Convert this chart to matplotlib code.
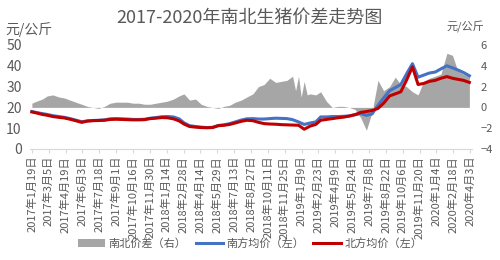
import matplotlib
matplotlib.use("Agg")
import matplotlib.pyplot as plt
import pandas as pd

plt.rcParams['font.family'] = ['Noto Sans CJK SC', 'DejaVu Sans']

# semi-monthly sample dates for the two price lines
dates = [
    "2017-01-19", "2017-02-01", "2017-02-16", "2017-03-01", "2017-03-16", "2017-04-01",
    "2017-04-16", "2017-05-01", "2017-05-16", "2017-06-01", "2017-06-16", "2017-07-01",
    "2017-07-16", "2017-08-01", "2017-08-16", "2017-09-01", "2017-09-16", "2017-10-01",
    "2017-10-16", "2017-11-01", "2017-11-16", "2017-12-01", "2017-12-16", "2018-01-01",
    "2018-01-16", "2018-02-01", "2018-02-16", "2018-03-01", "2018-03-16", "2018-04-01",
    "2018-04-16", "2018-05-01", "2018-05-16", "2018-06-01", "2018-06-16", "2018-07-01",
    "2018-07-16", "2018-08-01", "2018-08-16", "2018-09-01", "2018-09-16", "2018-10-01",
    "2018-10-16", "2018-11-01", "2018-11-16", "2018-12-01", "2018-12-16", "2019-01-01",
    "2019-01-16", "2019-02-01", "2019-02-16", "2019-03-01", "2019-03-16", "2019-04-01",
    "2019-04-16", "2019-05-01", "2019-05-16", "2019-06-01", "2019-06-16", "2019-07-01",
    "2019-07-16", "2019-08-01", "2019-08-16", "2019-09-01", "2019-09-16", "2019-10-01",
    "2019-10-16", "2019-11-01", "2019-11-16", "2019-12-01", "2019-12-16", "2020-01-01",
    "2020-01-16", "2020-02-01", "2020-02-16", "2020-03-01", "2020-03-16", "2020-04-01",
]

south_price = [
    18.0, 17.5, 17.0, 16.6, 16.0, 15.6, 15.2, 14.6, 13.9, 13.1, 13.5, 13.7,
    13.8, 14.0, 14.5, 14.6, 14.5, 14.4, 14.2, 14.2, 14.3, 14.8, 15.1, 15.5,
    15.6, 15.4, 14.5, 12.6, 11.2, 10.8, 10.5, 10.3, 10.4, 11.3, 11.6, 12.2,
    13.0, 13.9, 14.5, 14.6, 14.4, 14.4, 14.6, 14.8, 14.7, 14.6, 14.1, 13.0,
    11.8, 12.5, 13.0, 15.4, 15.4, 15.6, 15.6, 15.7, 15.9, 16.5, 17.0, 16.2,
    16.8, 21.0, 24.5, 28.0, 29.5, 31.0, 36.0, 41.0, 34.5, 35.5, 36.5, 37.0,
    38.5, 40.0, 39.0, 38.0, 36.8, 35.2,
]

north_price = [
    17.8, 17.3, 16.6, 16.2, 15.6, 15.2, 14.9, 14.3, 13.6, 12.8, 13.4, 13.6,
    13.7, 13.8, 14.2, 14.3, 14.2, 14.1, 14.0, 14.0, 14.1, 14.6, 14.8, 15.1,
    15.0, 14.5, 13.5, 12.0, 10.8, 10.5, 10.3, 10.2, 10.3, 11.2, 11.4, 11.8,
    12.5, 13.3, 13.8, 13.6, 12.8, 12.2, 12.0, 11.9, 11.7, 11.6, 11.5, 11.4,
    9.5, 11.0, 11.8, 13.8, 14.2, 14.6, 15.0, 15.3, 15.8, 16.5, 17.6, 18.0,
    18.5, 19.5, 22.0, 25.5, 26.5, 27.5, 33.0, 39.5, 31.0, 31.5, 32.5, 33.0,
    34.0, 34.8, 34.0, 33.5, 33.0, 32.0,
]

# price gap (right axis), read separately because of its spikes
gap_dates = [
    "2017-01-19", "2017-02-01", "2017-02-16", "2017-03-01", "2017-03-16", "2017-04-01",
    "2017-04-16", "2017-05-01", "2017-05-16", "2017-06-01", "2017-06-16", "2017-07-01",
    "2017-07-16", "2017-08-01", "2017-08-16", "2017-09-01", "2017-09-16", "2017-10-01",
    "2017-10-16", "2017-11-01", "2017-11-16", "2017-12-01", "2017-12-16", "2018-01-01",
    "2018-01-16", "2018-02-01", "2018-02-16", "2018-03-01", "2018-03-16", "2018-04-01",
    "2018-04-16", "2018-05-01", "2018-05-16", "2018-06-01", "2018-06-16", "2018-07-01",
    "2018-07-16", "2018-08-01", "2018-08-16", "2018-09-01", "2018-09-16", "2018-10-01",
    "2018-10-16", "2018-11-01", "2018-11-16", "2018-12-01", "2018-12-16", "2018-12-24",
    "2019-01-01", "2019-01-08", "2019-01-16", "2019-01-24", "2019-02-01", "2019-02-16",
    "2019-03-01", "2019-03-16", "2019-04-01", "2019-04-16", "2019-05-01", "2019-05-16",
    "2019-06-01", "2019-06-16", "2019-07-01", "2019-07-16", "2019-08-01", "2019-08-16",
    "2019-09-01", "2019-09-16", "2019-10-01", "2019-10-16", "2019-11-01", "2019-11-16",
    "2019-12-01", "2019-12-16", "2020-01-01", "2020-01-16", "2020-02-01", "2020-02-16",
    "2020-03-01", "2020-03-16", "2020-04-01",
]

gap_values = [
    0.4, 0.6, 0.8, 1.1, 1.2, 1.0, 0.9, 0.7, 0.5, 0.3, 0.1, 0.0,
    -0.1, 0.1, 0.4, 0.5, 0.5, 0.5, 0.4, 0.4, 0.3, 0.3, 0.4, 0.5,
    0.6, 0.8, 1.1, 1.3, 0.7, 0.8, 0.3, 0.1, 0.0, -0.1, 0.1, 0.2,
    0.5, 0.7, 1.0, 1.3, 2.0, 2.2, 2.8, 2.4, 2.5, 2.6, 3.0, 1.6,
    3.0, 1.0, 2.5, 1.2, 1.3, 1.2, 1.5, 0.6, 0.0, 0.1, 0.1, 0.0,
    -0.2, -1.0, -2.2, -0.5, 2.6, 1.6, 2.0, 2.9, 2.2, 2.0, 1.5, 1.2,
    2.5, 2.8, 3.0, 3.2, 5.2, 5.0, 3.5, 3.2, 3.0,
]

tick_dates = pd.date_range("2017-01-19", periods=27, freq="45D")
tick_labels = [f"{d.year}年{d.month}月{d.day}日" for d in tick_dates]

text_color = "#595959"

fig = plt.figure(figsize=(5, 2.6), dpi=100)
ax = fig.add_axes([0.06, 0.427, 0.884, 0.4])
ax_r = ax.twinx()

ax_r.fill_between(pd.to_datetime(gap_dates), 0, gap_values, color="#a6a6a6",
                  linewidth=0, label="南北价差（右）")
ax.plot(pd.to_datetime(dates), south_price, color="#4472c4", linewidth=2.2,
        label="南方均价（左）")
ax.plot(pd.to_datetime(dates), north_price, color="#c00000", linewidth=2.2,
        label="北方均价（左）")

# lines above the gray area
ax.set_zorder(ax_r.get_zorder() + 1)
ax.patch.set_visible(False)

ax.set_ylim(0, 50)
ax.set_yticks(range(0, 51, 10))
ax_r.set_ylim(-4, 6)
ax_r.set_yticks(range(-4, 7, 2))
ax.set_xlim(pd.Timestamp("2017-01-14"), pd.Timestamp("2020-04-08"))
ax.set_xticks(tick_dates)
ax.set_xticklabels(tick_labels, rotation=90, fontsize=8, color=text_color)

for a in (ax, ax_r):
    for s in a.spines.values():
        s.set_visible(False)
ax.spines["bottom"].set_visible(True)
ax.spines["bottom"].set_color("#d9d9d9")
ax.tick_params(axis="x", length=3, color="#d9d9d9", pad=2)
ax.tick_params(axis="y", length=0, labelsize=10, labelcolor=text_color, pad=6)
ax_r.tick_params(axis="y", length=0, labelsize=8, labelcolor=text_color, pad=6)

fig.text(0.5, 0.93, "2017-2020年南北生猪价差走势图", ha="center", va="center",
         fontsize=13, color=text_color)
fig.text(0.01, 0.885, "元/公斤", ha="left", va="center", fontsize=10, color=text_color)
fig.text(0.968, 0.895, "元/公斤", ha="right", va="center", fontsize=8, color=text_color)

handles = ax_r.get_legend_handles_labels()[0] + ax.get_legend_handles_labels()[0]
labels = ax_r.get_legend_handles_labels()[1] + ax.get_legend_handles_labels()[1]
fig.legend(handles, labels, loc="center", bbox_to_anchor=(0.5, 0.065), ncol=3,
           frameon=False, fontsize=8, labelcolor=text_color, handlelength=2.5,
           handletextpad=0.3, columnspacing=0.8)

fig.savefig("out.png", dpi=100)
